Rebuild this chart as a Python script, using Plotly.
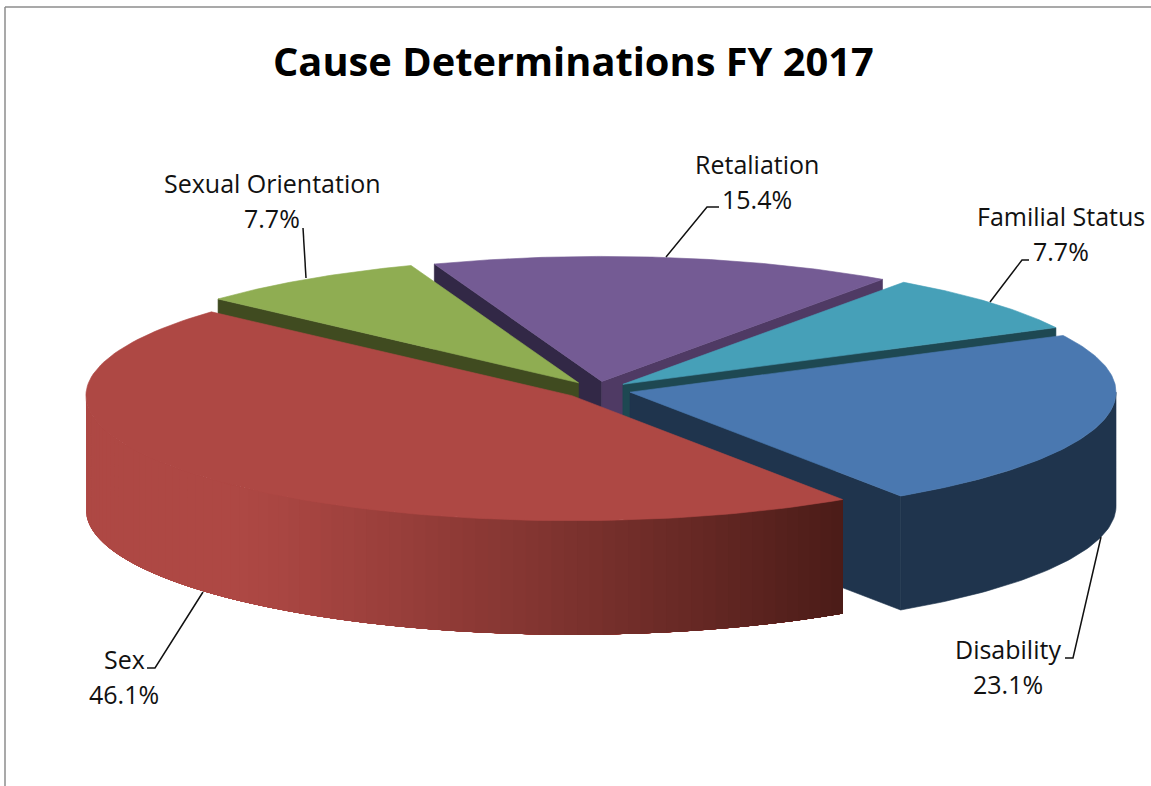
import numpy as np
import plotly.graph_objects as go

# ---- data ----
categories = ["Disability", "Sex", "Sexual Orientation", "Retaliation", "Familial Status"]
percent_values = [23.1, 46.1, 7.7, 15.4, 7.7]
chart_title = "Cause Determinations FY 2017"

# ---- styling ----
top_colors = ["#4a78b0", "#ae4844", "#8fad52", "#745b94", "#46a0b8"]
start_wall_colors = [None, None, "#404b20", "#322846", None]
end_wall_colors = ["#1f344d", None, None, "#4f3a64", "#1e4852"]
rim_light = [(31, 52, 77), (174, 72, 68), (64, 75, 32), (79, 58, 100), (30, 72, 82)]
rim_dark = [(31, 52, 77), (75, 28, 24), (64, 75, 32), (79, 58, 100), (30, 72, 82)]
paint_order = [3, 4, 2, 0, 1]

W, H = 1151, 786
CX, CY = 597.4, 390.0        # pie centre before explosion
RX, RY = 486.0, 125.0        # projected radii
DEPTH = 114.0                # projected thickness
EXPLODE = 33.7               # explosion distance along x radius
START_DEG = -27.0            # first slice start, clockwise from +x

fig = go.Figure()


def add_poly(xs, ys, color):
    fig.add_trace(go.Scatter(
        x=list(xs) + [xs[0]], y=list(ys) + [ys[0]], mode="lines", fill="toself",
        fillcolor=color, line=dict(color=color, width=0.6),
        hoverinfo="skip", showlegend=False))


def rgb(c):
    return "rgb(%d,%d,%d)" % tuple(int(round(v)) for v in c)


total = sum(percent_values)
spans = np.array(percent_values) / total * 360.0
starts = START_DEG + np.concatenate([[0.0], np.cumsum(spans)[:-1]])


def geometry(i):
    a0, a1 = starts[i], starts[i] + spans[i]
    m = np.radians((a0 + a1) / 2)
    ax = CX + EXPLODE * np.cos(m)
    ay = CY + EXPLODE * RY / RX * np.sin(m)
    return a0, a1, ax, ay


def rim_point(ax, ay, deg):
    r = np.radians(deg)
    return ax + RX * np.cos(r), ay + RY * np.sin(r)


for i in paint_order:
    a0, a1, ax, ay = geometry(i)
    # straight cut walls
    for deg, col in ((a0, start_wall_colors[i]), (a1, end_wall_colors[i])):
        if col:
            px, py = rim_point(ax, ay, deg)
            add_poly([ax, px, px, ax], [ay, py, py + DEPTH, ay + DEPTH], col)
    # curved outer wall, only the part facing the viewer (0..180 deg)
    lo, hi = max(a0, 0.0), min(a1, 180.0)
    if hi > lo:
        if rim_light[i] == rim_dark[i]:
            deg = np.linspace(lo, hi, 60)
            px, py = rim_point(ax, ay, deg)
            add_poly(list(px) + list(px[::-1]), list(py) + list((py + DEPTH)[::-1]), rgb(rim_light[i]))
        else:
            n = int((hi - lo) / 1.5)
            edges = np.linspace(lo, hi, n + 1)
            x_left = ax + RX * np.cos(np.radians(hi))
            x_right = ax + RX * np.cos(np.radians(lo))
            # each band runs from the dark end up to its own edge; the lightest
            # is painted first so that neighbours overlap and leave no seams
            for e0, e1 in list(zip(edges[:-1], edges[1:]))[::-1]:
                deg = np.linspace(lo, e1, max(4, int(e1 - lo) + 2))
                px, py = rim_point(ax, ay, deg)
                xm = ax + RX * np.cos(np.radians((e0 + e1) / 2))
                t = np.clip((xm - (x_left + 0.2 * (x_right - x_left))) /
                            (0.8 * (x_right - x_left)), 0, 1) ** 1.15
                c = np.array(rim_light[i]) * (1 - t) + np.array(rim_dark[i]) * t
                fig.add_trace(go.Scatter(
                    x=list(px) + list(px[::-1]) + [px[0]],
                    y=list(py) + list((py + DEPTH)[::-1]) + [py[0]],
                    mode="lines", fill="toself", fillcolor=rgb(c),
                    line=dict(width=0), hoverinfo="skip", showlegend=False))
    # flat top
    deg = np.linspace(a0, a1, 120)
    px, py = rim_point(ax, ay, deg)
    add_poly([ax] + list(px), [ay] + list(py), top_colors[i])

# leader lines (one path per label, in category order)
leaders = [
    ([1065, 1073, 1101], [658, 658, 537]),
    ([147, 155, 203], [668, 668, 592]),
    ([303, 306], [228, 278]),
    ([719, 707, 666], [207, 207, 257]),
    ([1029, 1022, 990], [260, 260, 302]),
]
for lx, ly in leaders:
    fig.add_trace(go.Scatter(x=lx, y=ly, mode="lines", line=dict(color="#111111", width=1.5),
                             hoverinfo="skip", showlegend=False))

# label anchor positions: (centre x, name y, value y)
label_pos = [(1008, 649, 684), (124, 659, 694), (272, 183, 218), (757, 164, 199), (1061, 216, 251)]
annotations = []
for name, val, (lx, y1, y2) in zip(categories, percent_values, label_pos):
    for txt, y in ((name, y1), (f"{val:.1f}%", y2)):
        annotations.append(dict(x=lx, y=y, xref="x", yref="y", text=txt, showarrow=False,
                                xanchor="center", yanchor="middle",
                                font=dict(family="Open Sans, sans-serif", size=25, color="#111111")))
annotations.append(dict(x=573, y=60, xref="x", yref="y", text="<b>" + chart_title + "</b>",
                        showarrow=False, xanchor="center", yanchor="middle",
                        font=dict(family="Open Sans, sans-serif", size=39.8, color="#000000")))

fig.update_layout(
    width=W, height=H, margin=dict(l=0, r=0, t=0, b=0),
    paper_bgcolor="white", plot_bgcolor="white", showlegend=False,
    xaxis=dict(range=[0, W], visible=False, fixedrange=True),
    yaxis=dict(range=[H, 0], visible=False, fixedrange=True),
    annotations=annotations,
    shapes=[
        dict(type="line", xref="x", yref="y", x0=5, x1=5, y0=7, y1=H, line=dict(color="#8c8c8c", width=1.5)),
        dict(type="line", xref="x", yref="y", x0=5, x1=W, y0=7, y1=7, line=dict(color="#8c8c8c", width=1.5)),
    ],
)
fig.write_html("out.html", post_script="document.body.style.margin='0';document.body.style.overflow='hidden';",
               config={"displayModeBar": False})
